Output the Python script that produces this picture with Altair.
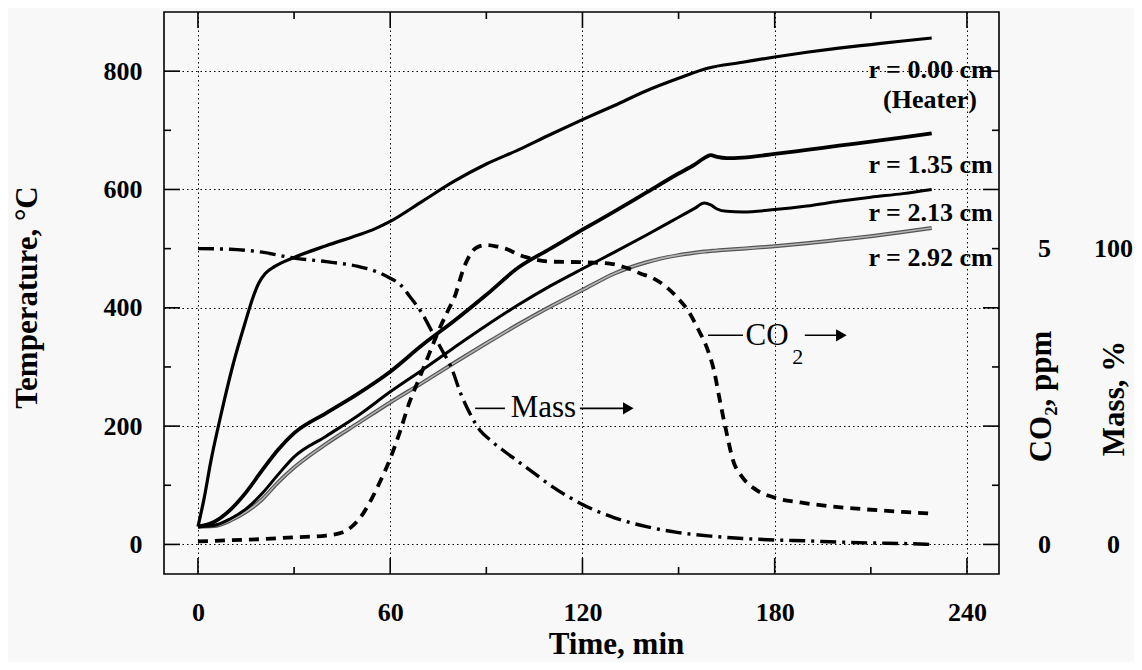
import altair as alt
import pandas as pd

FONT = "Liberation Serif"

# ---------------- data ----------------
heater_t = [0, 2, 4, 7, 11, 15, 17, 19, 21, 24, 30, 40, 50, 55, 60, 70, 80, 90, 100,
            110, 120, 130, 140, 150, 159, 170, 180, 190, 200, 210, 220, 229]
heater_T = [30, 80, 140, 215, 305, 380, 415, 442, 458, 470, 485, 505, 523, 533, 546, 580,
            614, 643, 667, 693, 718, 742, 767, 788, 805, 815, 824, 832, 839, 845, 851, 856]

tc_t = [0, 5, 10, 15, 20, 25, 30, 40, 50, 60, 70, 80, 90, 100, 110, 120, 130, 140, 150,
        155, 158, 160, 162, 165, 170, 180, 190, 200, 210, 220, 229]
r135_T = [30, 38, 58, 88, 125, 160, 188, 222, 255, 292, 337, 378, 422, 468, 500, 532, 563,
          595, 627, 642, 653, 658, 655, 653, 654, 660, 667, 674, 681, 688, 695]
r213_T = [30, 32, 43, 60, 86, 118, 148, 183, 218, 258, 295, 333, 370, 405, 437, 466, 494,
          523, 553, 568, 577, 574, 567, 563, 562, 566, 572, 580, 587, 593, 600]
r292_T = [30, 31, 40, 55, 76, 105, 130, 170, 205, 240, 273, 307, 340, 372, 402, 430, 458,
          477, 489, 493, 495, 496, 497, 498, 500, 504, 509, 515, 521, 528, 535]

mass_t = [0, 10, 20, 30, 40, 50, 55, 60, 63, 66, 70, 73, 76, 79, 82, 85, 88, 91, 95, 100,
          105, 110, 115, 120, 130, 140, 150, 160, 170, 180, 190, 200, 210, 220, 229]
mass_pct = [100, 99.8, 98.8, 96.8, 95.6, 94, 92.5, 90, 88, 84, 78, 72, 66, 60, 51, 44, 38.6,
            35.5, 32, 28, 24, 20, 16.5, 13.5, 9, 6, 4, 2.8, 2, 1.5, 1.2, 0.8, 0.5, 0.3, 0]

co2_t = [0, 10, 20, 30, 40, 45, 48, 51, 54, 57, 60, 63, 66, 69, 72, 75, 78, 80, 83, 87, 90,
         93, 96, 100, 105, 110, 120, 128, 134, 138, 142, 146, 150, 153, 156, 159, 161, 163,
         165, 167, 170, 174, 180, 188, 198, 209, 220, 229]
co2_ppm = [0.05, 0.07, 0.09, 0.12, 0.15, 0.2, 0.3, 0.48, 0.75, 1.08, 1.45, 1.9, 2.4, 2.8,
           3.2, 3.6, 3.95, 4.17, 4.68, 5.02, 5.06, 5.04, 5.0, 4.9, 4.82, 4.78, 4.77, 4.75,
           4.67, 4.58, 4.5, 4.36, 4.15, 3.95, 3.65, 3.3, 2.95, 2.4, 1.88, 1.42, 1.13, 0.93,
           0.79, 0.71, 0.64, 0.59, 0.55, 0.52]

# tick values
x_major = [0, 60, 120, 180, 240]
x_minor = [30, 90, 150, 210]
y_major = [0, 200, 400, 600, 800]
y_minor = [100, 300, 500, 700]

# curve labels (right aligned)
r_text = ["r = 0.00 cm", "(Heater)", "r = 1.35 cm", "r = 2.13 cm", "r = 2.92 cm"]
r_x = [248, 243.1, 248, 248, 248]
r_y = [802, 751, 641, 561, 484]

# annotations
ann_text = ["Mass", "CO"]
ann_x = [107.8, 177.6]
ann_y = [230, 353]
sub_text = ["2"]
sub_x = [187.2]
sub_y = [316]
lead_x1 = [86.5, 119.2, 159.2, 189.4]
lead_x2 = [95.8, 133.0, 170.1, 199.5]
lead_y = [230, 230, 353.5, 353.5]
head_x = [134.3, 200.8]
head_y = [230, 353.5]

# ---------------- scales / axes ----------------
W, H = 835, 562
xscale = alt.Scale(domain=[-10.6, 250], nice=False, zero=False)
yscale = alt.Scale(domain=[-50, 900], nice=False, zero=False)
co2scale = alt.Scale(domain=[-0.5, 9], nice=False, zero=False)
massscale = alt.Scale(domain=[-10, 180], nice=False, zero=False)

common_lbl = dict(labelFont=FONT, labelFontWeight="bold", labelFontSize=26,
                  labelColor="black", labelOverlap=False, labelFlush=False)
common_title = dict(titleFont=FONT, titleFontWeight="bold", titleFontSize=31,
                    titleColor="black")

xaxis = alt.Axis(values=x_major, grid=True, gridDash=[1.5, 3], gridColor="black",
                 gridWidth=1, gridOpacity=1, ticks=False, domain=False,
                 labelPadding=38, labelBaseline="middle", labelAngle=0,
                 title="Time, min", titleX=452, titleY=79, titleBaseline="alphabetic",
                 titleAlign="center", **common_lbl, **common_title)
yaxis = alt.Axis(values=y_major, grid=True, gridDash=[1.5, 3], gridColor="black",
                 gridWidth=1, gridOpacity=1, ticks=False, domain=False,
                 labelPadding=22, labelBaseline="middle",
                 title="Temperature, °C", titleAngle=270, titleX=-128, titleY=285,
                 titleBaseline="alphabetic", titleAlign="center",
                 **common_lbl, **common_title)
co2axis = alt.Axis(orient="right", offset=45, values=[0, 5], ticks=False, domain=False,
                   grid=False, labelPadding=0, labelAlign="center", labelBaseline="middle",
                   title="CO₂, ppm", titleAngle=270, titleX=-3, titleY=384,
                   titleBaseline="middle", titleAlign="center",
                   **common_lbl, **common_title)
massaxis = alt.Axis(orient="right", offset=114, values=[0, 100], ticks=False, domain=False,
                    grid=False, labelPadding=0, labelAlign="center", labelBaseline="middle",
                    title="Mass, %", titleAngle=270, titleX=1, titleY=386,
                    titleBaseline="middle", titleAlign="center",
                    **common_lbl, **common_title)

X = alt.X("t:Q", scale=xscale, axis=xaxis)
X2 = alt.X2("t2:Q")
Y = alt.Y("T:Q", scale=yscale, axis=yaxis)

def series(t, v):
    return pd.DataFrame({"t": t, "T": v})

heater = alt.Chart(series(heater_t, heater_T)).mark_line(
    color="black", strokeWidth=3.2, interpolate="monotone").encode(x=X, y=Y)
r135 = alt.Chart(series(tc_t, r135_T)).mark_line(
    color="black", strokeWidth=3.8, interpolate="monotone").encode(x=X, y=Y)
r213 = alt.Chart(series(tc_t, r213_T)).mark_line(
    color="black", strokeWidth=3.0, interpolate="monotone").encode(x=X, y=Y)
r292_outer = alt.Chart(series(tc_t, r292_T)).mark_line(
    color="#555555", strokeWidth=4, interpolate="monotone").encode(x=X, y=Y)
r292_inner = alt.Chart(series(tc_t, r292_T)).mark_line(
    color="#b4b4b4", strokeWidth=1.6, interpolate="monotone").encode(x=X, y=Y)

# inward ticks on the frame
def tick_df_x(vals):
    return pd.DataFrame({"t": vals})

def tick_df_y(vals):
    return pd.DataFrame({"T": vals})

tick_style = dict(color="black", strokeWidth=1.6)
ticks = [
    alt.Chart(tick_df_x(x_major)).mark_rule(**tick_style).encode(x=X, y=alt.value(H), y2=alt.value(H - 16)),
    alt.Chart(tick_df_x(x_minor)).mark_rule(**tick_style).encode(x=X, y=alt.value(H), y2=alt.value(H - 7)),
    alt.Chart(tick_df_x(x_major)).mark_rule(**tick_style).encode(x=X, y=alt.value(0), y2=alt.value(16)),
    alt.Chart(tick_df_x(x_minor)).mark_rule(**tick_style).encode(x=X, y=alt.value(0), y2=alt.value(7)),
    alt.Chart(tick_df_y(y_major)).mark_rule(**tick_style).encode(y=Y, x=alt.value(0), x2=alt.value(16)),
    alt.Chart(tick_df_y(y_minor)).mark_rule(**tick_style).encode(y=Y, x=alt.value(0), x2=alt.value(7)),
    alt.Chart(tick_df_y(y_major)).mark_rule(**tick_style).encode(y=Y, x=alt.value(W), x2=alt.value(W - 16)),
    alt.Chart(tick_df_y(y_minor)).mark_rule(**tick_style).encode(y=Y, x=alt.value(W), x2=alt.value(W - 7)),
]

rlabels = alt.Chart(pd.DataFrame({"t": r_x, "T": r_y, "txt": r_text})).mark_text(
    font=FONT, fontWeight="bold", fontSize=26, align="right", baseline="middle",
    color="black").encode(x=X, y=Y, text="txt:N")

ann = alt.Chart(pd.DataFrame({"t": ann_x, "T": ann_y, "txt": ann_text})).mark_text(
    font=FONT, fontSize=31, align="center", baseline="middle", color="black").encode(
    x=X, y=Y, text="txt:N")
sub = alt.Chart(pd.DataFrame({"t": sub_x, "T": sub_y, "txt": sub_text})).mark_text(
    font=FONT, fontSize=22, align="center", baseline="middle", color="black").encode(
    x=X, y=Y, text="txt:N")
leaders = alt.Chart(pd.DataFrame({"t": lead_x1, "t2": lead_x2, "T": lead_y})).mark_rule(
    color="black", strokeWidth=1.6).encode(x=X, x2=X2, y=Y)
heads = alt.Chart(pd.DataFrame({"t": head_x, "T": head_y})).mark_point(
    shape="triangle-right", filled=True, size=150, color="black", opacity=1).encode(x=X, y=Y)

temp_layer = alt.layer(r292_outer, r292_inner, r213, r135, heater, *ticks,
                       rlabels, ann, sub, leaders, heads)

co2 = alt.Chart(pd.DataFrame({"t": co2_t, "ppm": co2_ppm})).mark_line(
    color="black", strokeWidth=3.8, strokeDash=[10, 7], interpolate="monotone").encode(
    x=X, y=alt.Y("ppm:Q", scale=co2scale, axis=co2axis))
mass = alt.Chart(pd.DataFrame({"t": mass_t, "pct": mass_pct})).mark_line(
    color="black", strokeWidth=3.4, strokeDash=[16, 6, 3, 6], interpolate="monotone").encode(
    x=X, y=alt.Y("pct:Q", scale=massscale, axis=massaxis))

chart = alt.layer(temp_layer, co2, mass).resolve_scale(y="independent").properties(
    width=W, height=H,
    autosize=alt.AutoSizeParams(type="none"),
    padding={"left": 156, "top": 4, "right": 135, "bottom": 88},
    background="#f8f8f8",
).configure_view(stroke="black", strokeWidth=1.6)

chart.save("out.html", embed_options={"renderer": "svg", "actions": False})
